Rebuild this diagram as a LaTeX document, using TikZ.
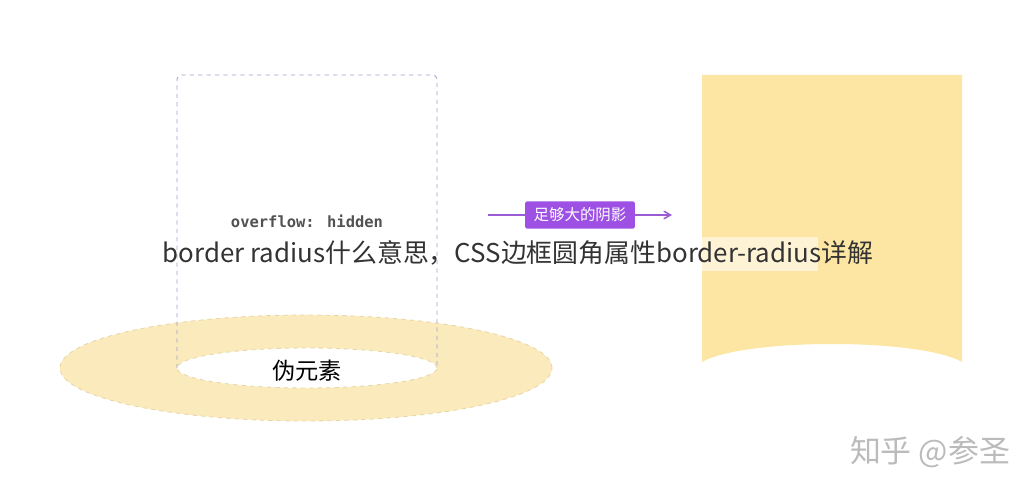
\documentclass[tikz,border=0pt]{standalone}
\usepackage{fontspec}
\setmainfont{Noto Sans CJK SC}
\newfontfamily\cjk{Noto Sans CJK SC}
\newfontfamily\monofont{DejaVu Sans Mono}
\usepackage{tikz}
\usetikzlibrary{shapes.geometric, arrows}
\definecolor{boxline}{HTML}{A0A0CC}
\definecolor{ringfill}{HTML}{FBEBBC}
\definecolor{ringline}{HTML}{E6D7A8}
\definecolor{shadowfill}{HTML}{FDE6A3}
\definecolor{arrowpurple}{HTML}{9B5BD4}
\definecolor{labelpurple}{HTML}{9D50E3}
\definecolor{titletext}{HTML}{333333}
\definecolor{marktext}{HTML}{BBBBBB}
\tikzstyle{clipbox} = [draw=boxline, dashed, rounded corners=3pt, line width=0.6pt]
\tikzstyle{ring} = [ellipse, draw=ringline, dashed, line width=0.6pt]
\tikzstyle{arrow} = [draw=arrowpurple, line width=1.1pt, ->, >=angle 60]
\tikzstyle{shadowlabel} = [rectangle, fill=labelpurple, text=white, font=\cjk\fontsize{11}{13}\selectfont, inner xsep=6pt, inner ysep=4.5pt, rounded corners=1pt]

\begin{document}
\begin{tikzpicture}[x=0.025cm, y=-0.025cm]
\useasboundingbox (0,0) rectangle (1034,490);

% left: pseudo element ring
\node (outer) [ring, fill=ringfill, minimum width=492*0.025cm, minimum height=106*0.025cm] at (306,368) {};
\node (inner) [ring, fill=white, minimum width=260*0.025cm, minimum height=40*0.025cm] at (307,368) {};
\node (pseudo) at (307,371) {\cjk\fontsize{16.5}{18}\selectfont 伪元素};
\draw [clipbox] (177,368) -- (177,75) -- (437,75) -- (437,368);
\node (hidden) at (307,221) {\monofont\bfseries\fontsize{11}{13}\selectfont\color{titletext!85} overflow: hidden};

% middle arrow
\coordinate (from) at (488,215);
\coordinate (to) at (672,215);
\draw [arrow] (from) -- node[shadowlabel] {足够大的阴影} (to);

% right: the shadow shape
\fill [shadowfill] (702,75) -- (962,75) -- (962,362) .. controls (920,338) and (744,338) .. (702,362) -- cycle;

% title overlay
\fill [white, opacity=0.55] (702,237) rectangle (818,271);
\node (title) at (518,253) {\cjk\fontsize{18.4}{21}\selectfont\color{titletext} border radius什么意思，CSS边框圆角属性border-radius详解};

% watermark
\node (mark) at (930,452) {\cjk\fontsize{22}{24}\selectfont\color{marktext} 知乎 @参圣};

\end{tikzpicture}
\end{document}
